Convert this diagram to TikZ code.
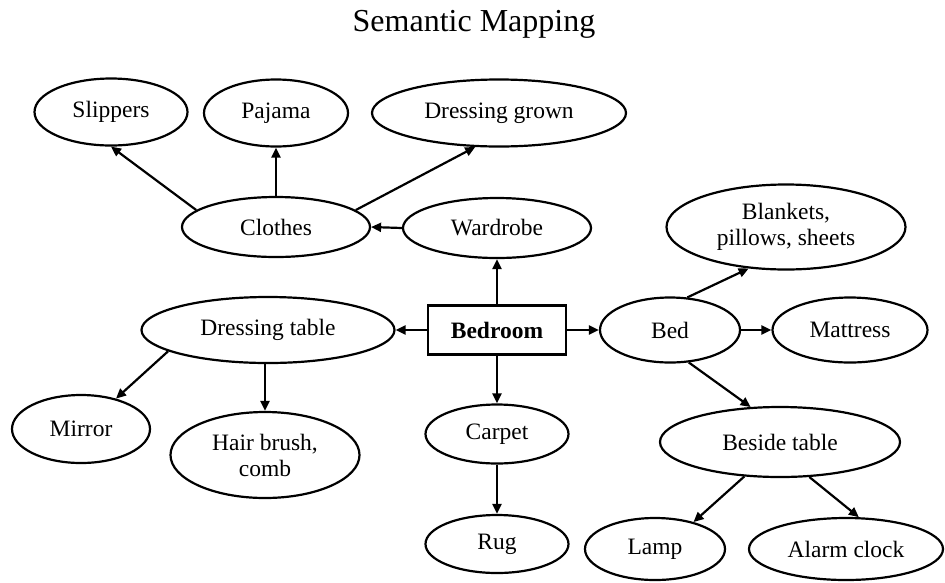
\documentclass[tikz,border=0pt]{standalone}
\usepackage{fontspec}
\setmainfont{Liberation Serif}
\usetikzlibrary{shapes.geometric,arrows.meta}

\begin{document}
\begin{tikzpicture}[x=1pt, y=-1pt, line width=2.2pt,
		idea/.style={draw, ellipse, inner sep=0pt, align=center, font=\fontsize{23.5}{26}\selectfont},
		topic/.style={draw, rectangle, inner sep=0pt, minimum width=138pt, minimum height=49pt, font=\fontsize{23.5}{26}\selectfont\bfseries},
		link/.style={-{Triangle[length=10pt, width=9pt]}}]
		\useasboundingbox (0,0) rectangle (945,582);

		\node[anchor=base] (title) at (474,31) {\fontsize{32}{36}\selectfont Semantic Mapping};

		% top row
		\node[idea, minimum width=153pt, minimum height=67pt] (slippers) at (111,112) {Slippers};
		\node[idea, minimum width=144pt, minimum height=67pt] (pajama) at (276,113) {Pajama};
		\node[idea, minimum width=254pt, minimum height=67pt] (gown) at (499,113) {Dressing grown};
		\node[idea, minimum width=188pt, minimum height=60pt] (clothes) at (276,227) {Clothes};
		\node[idea, minimum width=188pt, minimum height=60pt] (wardrobe) at (497,228) {Wardrobe};
		\node[idea, minimum width=239pt, minimum height=85pt] (blankets) at (786,227) {Blankets,\\pillows, sheets};

		% middle row
		\node[topic] (bedroom) at (497,330) {Bedroom};
		\node[idea, minimum width=253pt, minimum height=66pt] (dtable) at (268,330) {Dressing table};
		\node[idea, minimum width=140pt, minimum height=65pt] (bed) at (670,330) {Bed};
		\node[idea, minimum width=155pt, minimum height=65pt] (mattress) at (850,330) {Mattress};

		% bottom rows
		\node[idea, minimum width=138pt, minimum height=68pt] (mirror) at (81,429) {Mirror};
		\node[idea, minimum width=189pt, minimum height=86pt] (hair) at (265,455) {Hair brush,\\comb};
		\node[idea, minimum width=143pt, minimum height=59pt] (carpet) at (497,434) {Carpet};
		\node[idea, minimum width=143pt, minimum height=58pt] (rug) at (497,544) {Rug};
		\node[idea, minimum width=240pt, minimum height=70pt] (beside) at (780,442) {Beside table};
		\node[idea, minimum width=140pt, minimum height=62pt] (lamp) at (655,549) {Lamp};
		\node[idea, minimum width=194pt, minimum height=62pt] (alarm) at (846,549) {Alarm clock};

		% arrows
		\draw[link] (bedroom.north) -- (wardrobe.south);
		\draw[link] (bedroom.west) -- (dtable.east);
		\draw[link] (bedroom.east) -- (bed.west);
		\draw[link] (bedroom.south) -- (carpet.north);
		\draw[link] (wardrobe.west) -- (clothes.east);
		\draw[link] (clothes.168) -- (slippers.south);
		\draw[link] (clothes.north) -- (pajama.south);
		\draw[link] (clothes.12) -- (gown.235);
		\draw[link] (bed.62) -- (blankets.228);
		\draw[link] (bed.east) -- (mattress.west);
		\draw[link] (bed.300) -- (beside.130);
		\draw[link] (dtable.192) -- (mirror.41);
		\draw[link] (dtable.south -| hair) -- (hair.north);
		\draw[link] (carpet.south) -- (rug.north);
		\draw[link] (beside.224) -- (lamp.35);
		\draw[link] (beside.310) -- (alarm.68);
	\end{tikzpicture}
\end{document}
